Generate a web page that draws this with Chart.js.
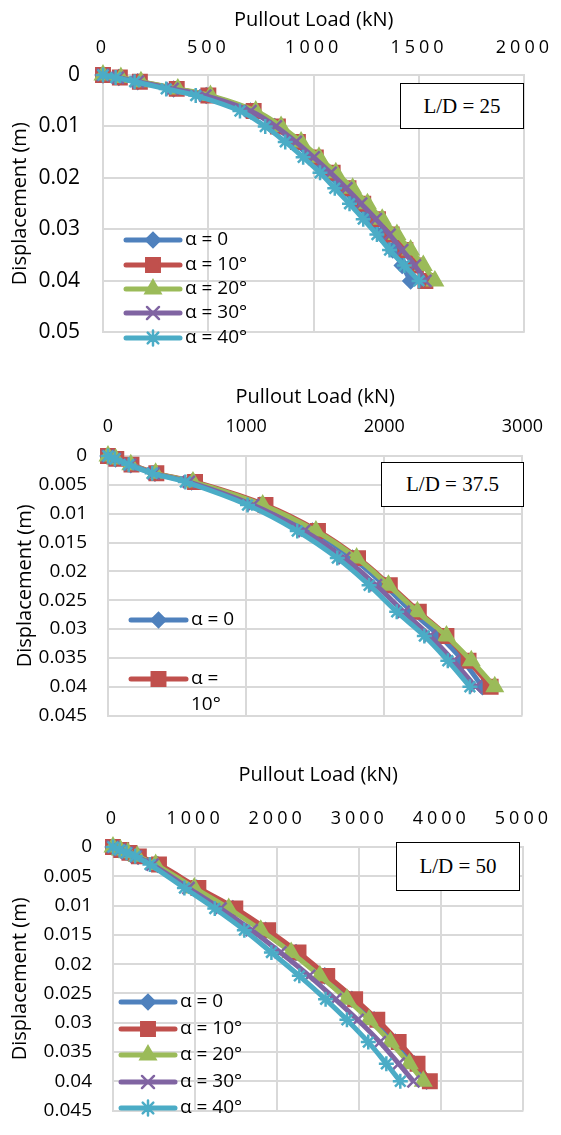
<!DOCTYPE html>
<html>
<head>
<meta charset="utf-8">
<script src="https://cdn.jsdelivr.net/npm/chart.js@4.4.1/dist/chart.umd.min.js"></script>
<style>
html, body { margin: 0; padding: 0; background: #fff; overflow: hidden; }
#page { position: relative; width: 561px; height: 1135px; }
canvas { position: absolute; left: 0; }
.ld {
    position: absolute; box-sizing: border-box; border: 1.5px solid #000; background: #fff;
    font-family: 'Liberation Serif', 'Times New Roman', serif; font-size: 21px; color: #000;
    display: flex; align-items: center; justify-content: center;
}
</style>
</head>
<body>
<div id="page">
    <canvas id="c25" width="561" height="368" style="top:0px"></canvas>
    <canvas id="c37" width="561" height="380" style="top:368px"></canvas>
    <canvas id="c50" width="561" height="395" style="top:748px"></canvas>
    <div class="ld" style="left:400px;top:83px;width:124px;height:46px">L/D = 25</div>
    <div class="ld" style="left:381px;top:462px;width:143px;height:45px">L/D = 37.5</div>
    <div class="ld" style="left:396px;top:842px;width:124px;height:49px">L/D = 50</div>
</div>
<script>
// series names
const seriesLabels = ['α = 0', 'α = 10°', 'α = 20°', 'α = 30°', 'α = 40°'];

// L/D = 25
const disp25 = [0, 0.0005, 0.0013, 0.0027, 0.004, 0.007, 0.010, 0.013, 0.016, 0.019, 0.022, 0.025, 0.028, 0.031, 0.034, 0.037, 0.040];
const load25a0 = [0, 75, 165, 335, 490, 700, 815, 905, 985, 1060, 1135, 1200, 1265, 1320, 1375, 1420, 1460];
const load25a10 = [0, 80, 175, 350, 500, 715, 830, 925, 1010, 1090, 1165, 1235, 1305, 1370, 1435, 1485, 1530];
const load25a20 = [0, 85, 180, 355, 510, 725, 845, 940, 1025, 1105, 1185, 1255, 1325, 1395, 1460, 1520, 1575];
const load25a30 = [0, 70, 165, 330, 485, 700, 820, 915, 1000, 1080, 1155, 1225, 1295, 1360, 1420, 1480, 1530];
const load25a40 = [0, 60, 150, 300, 440, 650, 770, 865, 950, 1030, 1100, 1170, 1235, 1300, 1360, 1430, 1500];
const loadTicks25 = [0, 500, 1000, 1500, 2000];
const dispTicks25 = [0, 0.01, 0.02, 0.03, 0.04, 0.05];

// L/D = 37.5
const disp37 = [0, 0.0005, 0.0015, 0.003, 0.0045, 0.0085, 0.013, 0.0177, 0.0224, 0.027, 0.0312, 0.0355, 0.040];
const load37a0 = [0, 55, 165, 340, 605, 1100, 1480, 1770, 2000, 2200, 2400, 2570, 2710];
const load37a10 = [0, 60, 170, 350, 630, 1140, 1520, 1810, 2040, 2250, 2450, 2610, 2770];
const load37a20 = [0, 55, 165, 345, 615, 1120, 1505, 1800, 2030, 2240, 2450, 2630, 2800];
const load37a30 = [0, 50, 160, 330, 585, 1050, 1420, 1710, 1940, 2140, 2330, 2500, 2660];
const load37a40 = [0, 50, 150, 320, 560, 1010, 1370, 1660, 1890, 2090, 2290, 2460, 2620];
const loadTicks37 = [0, 1000, 2000, 3000];
const dispTicks37 = [0, 0.005, 0.01, 0.015, 0.02, 0.025, 0.03, 0.035, 0.04, 0.045];

// L/D = 50
const disp50 = [0, 0.0005, 0.001, 0.0016, 0.003, 0.007, 0.0105, 0.0142, 0.018, 0.022, 0.026, 0.0295, 0.0333, 0.037, 0.040];
const load50a0 = [0, 95, 190, 305, 545, 1020, 1460, 1860, 2230, 2580, 2910, 3180, 3440, 3670, 3820];
const load50a10 = [0, 100, 200, 315, 560, 1040, 1490, 1890, 2260, 2610, 2950, 3220, 3480, 3710, 3860];
const load50a20 = [0, 90, 180, 295, 520, 990, 1410, 1800, 2170, 2520, 2850, 3120, 3380, 3610, 3780];
const load50a30 = [0, 85, 170, 280, 480, 920, 1310, 1690, 2040, 2390, 2710, 2980, 3250, 3480, 3660];
const load50a40 = [0, 80, 165, 270, 450, 870, 1240, 1600, 1930, 2270, 2590, 2850, 3110, 3330, 3500];
const loadTicks50 = [0, 1000, 2000, 3000, 4000, 5000];
const dispTicks50 = [0, 0.005, 0.01, 0.015, 0.02, 0.025, 0.03, 0.035, 0.04, 0.045];

// look
const colors = ['#4F81BD', '#C0504D', '#9BBB59', '#8064A2', '#4BACC6'];
const markers = ['rectRot', 'rect', 'triangle', 'crossRot', 'star'];
const markerRadius = [7, 9.5, 8.5, 8.5, 7.5];

Chart.defaults.font.family = "'Open Sans', sans-serif";
Chart.defaults.color = '#000';

// legend drawn inside the plot area, like the excel one
const innerLegend = {
    id: 'innerLegend',
    afterDraw(chart, args, opts) {
        if (!opts.items) return;
        const ctx = chart.ctx;
        ctx.save();
        ctx.font = opts.font;
        ctx.textBaseline = 'middle';
        ctx.textAlign = 'left';
        opts.items.forEach(item => {
            const ds = chart.data.datasets[item.index];
            ctx.strokeStyle = ds.borderColor;
            ctx.lineWidth = ds.borderWidth;
            ctx.lineCap = 'round';
            ctx.beginPath();
            ctx.moveTo(opts.x, item.y);
            ctx.lineTo(opts.x + opts.len, item.y);
            ctx.stroke();
            ctx.fillStyle = ds.pointBackgroundColor;
            ctx.strokeStyle = ds.pointBorderColor;
            ctx.lineWidth = ds.pointBorderWidth;
            Chart.helpers.drawPoint(ctx, {
                pointStyle: ds.pointStyle, radius: ds.pointRadius,
                borderWidth: ds.pointBorderWidth, rotation: 0
            }, opts.x + opts.len / 2, item.y);
            ctx.fillStyle = '#000';
            const lines = item.lines || [ds.label];
            lines.forEach((t, k) => ctx.fillText(t, opts.x + opts.len + 5, item.y + k * opts.lineGap));
        });
        ctx.restore();
    }
};

// wide letter spacing on the load tick labels
const spacedTicks = {
    id: 'spacedTicks',
    beforeDraw(chart, args, opts) {
        const xs = chart.scales.x;
        if (!opts.spacing || xs._spaced) return;
        const orig = xs.drawLabels;
        xs.drawLabels = function (area) {
            this.ctx.save();
            this.ctx.letterSpacing = opts.spacing;
            orig.call(this, area);
            this.ctx.restore();
        };
        xs._spaced = true;
    }
};

function makeChart(id, disp, loads, loadTicks, dispTicks, lay) {
    const datasets = loads.map((ld, i) => ({
        label: seriesLabels[i],
        data: ld.map((v, k) => ({ x: v, y: disp[k] })),
        showLine: true,
        borderColor: colors[i],
        backgroundColor: colors[i],
        borderWidth: 5,
        pointStyle: markers[i],
        pointRadius: markerRadius[i],
        pointBackgroundColor: colors[i],
        pointBorderColor: colors[i],
        pointBorderWidth: 2.5,
        tension: 0.4,
        clip: 12,
        order: 4 - i
    }));

    new Chart(document.getElementById(id).getContext('2d'), {
        type: 'scatter',
        data: { datasets: datasets },
        options: {
            responsive: false,
            animation: false,
            devicePixelRatio: 1,
            layout: { padding: { left: 0, top: 0, right: lay.padRight, bottom: lay.padBottom } },
            plugins: {
                legend: { display: false },
                tooltip: { enabled: false },
                innerLegend: lay.legend,
                spacedTicks: { spacing: lay.spacing }
            },
            scales: {
                x: {
                    type: 'linear',
                    position: 'top',
                    min: loadTicks[0],
                    max: loadTicks[loadTicks.length - 1],
                    afterBuildTicks: s => { s.ticks = loadTicks.map(v => ({ value: v })); },
                    afterFit: s => { s.height = lay.top; },
                    grid: { color: '#d9d9d9', lineWidth: 2, drawTicks: false },
                    border: { color: '#d9d9d9', width: 2 },
                    ticks: { padding: lay.xTickPad, font: { size: 18 }, callback: v => String(v) },
                    title: {
                        display: true, text: 'Pullout Load (kN)', font: { size: 20 },
                        padding: { top: lay.xTitlePad, bottom: 0 }
                    }
                },
                y: {
                    type: 'linear',
                    reverse: true,
                    min: dispTicks[0],
                    max: dispTicks[dispTicks.length - 1],
                    afterBuildTicks: s => { s.ticks = dispTicks.map(v => ({ value: v })); },
                    afterFit: s => { s.width = lay.left; },
                    grid: { color: '#d9d9d9', lineWidth: 2, drawTicks: false },
                    border: { color: '#d9d9d9', width: 2 },
                    ticks: { padding: lay.yTickPad, font: { size: lay.yTickSize }, callback: v => String(v) },
                    title: {
                        display: true, text: 'Displacement (m)', font: { size: 20 },
                        padding: { top: lay.yTitlePad, bottom: 0 }
                    }
                }
            }
        },
        plugins: [innerLegend, spacedTicks]
    });
}

makeChart('c25', disp25, [load25a0, load25a10, load25a20, load25a30, load25a40], loadTicks25, dispTicks25, {
    left: 103, top: 75, padRight: 26, padBottom: 16,
    xTickPad: 16, xTitlePad: 8, yTickPad: 23, yTitlePad: 8, yTickSize: 21, spacing: '4px',
    legend: {
        x: 126, len: 54, font: "19px 'Open Sans', sans-serif", lineGap: 26,
        items: [{ index: 0, y: 240 }, { index: 1, y: 265 }, { index: 2, y: 289 }, { index: 3, y: 313 }, { index: 4, y: 338 }]
    }
});

makeChart('c37', disp37, [load37a0, load37a10, load37a20, load37a30, load37a40], loadTicks37, dispTicks37, {
    left: 108, top: 88, padRight: 36, padBottom: 18,
    xTickPad: 18, xTitlePad: 17, yTickPad: 21, yTitlePad: 13, yTickSize: 19, spacing: null,
    legend: {
        x: 131, len: 55, font: "19px 'Open Sans', sans-serif", lineGap: 26,
        items: [{ index: 0, y: 252 }, { index: 1, y: 311, lines: ['α =', '10°'] }]
    }
});

makeChart('c50', disp50, [load50a0, load50a10, load50a20, load50a30, load50a40], loadTicks50, dispTicks50, {
    left: 113, top: 99, padRight: 28, padBottom: 14,
    xTickPad: 17, xTitlePad: 15, yTickPad: 21, yTitlePad: 8, yTickSize: 19, spacing: '4px',
    legend: {
        x: 121, len: 54, font: "19px 'Open Sans', sans-serif", lineGap: 26,
        items: [{ index: 0, y: 254 }, { index: 1, y: 281 }, { index: 2, y: 307 }, { index: 3, y: 334 }, { index: 4, y: 360 }]
    }
});
</script>
</body>
</html>
